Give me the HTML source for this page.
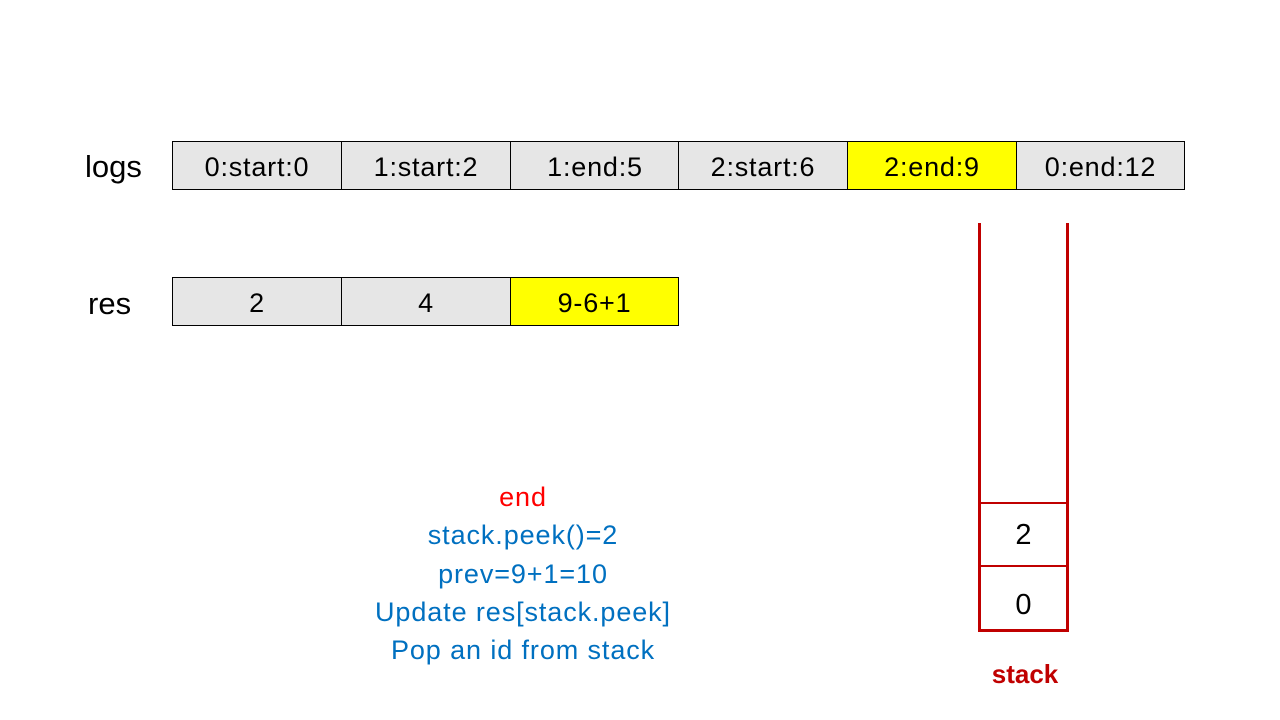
<!DOCTYPE html>
<html><head><meta charset="utf-8"><style>
body{margin:0;width:1280px;height:720px;background:#fff;position:relative;overflow:hidden;font-family:"Liberation Sans",sans-serif}
.c{position:absolute;box-sizing:border-box;border:1px solid #000;background:#e6e6e6;display:flex;align-items:center;justify-content:center;font-size:27px;letter-spacing:0.8px;color:#000;padding-top:4px}
.y{background:#ffff00}
.lbl{position:absolute;font-size:31px;color:#000}
.t{position:absolute;left:273px;width:500px;text-align:center;font-size:27px;letter-spacing:0.9px;color:#0070c0}
.v{position:absolute;background:#c00000}
</style></head><body>
<div class="lbl" style="left:85px;top:149px">logs</div>
<div class="lbl" style="left:88px;top:286px">res</div>

<div class="c" style="left:172px;top:141px;width:170px;height:49px">0:start:0</div>
<div class="c" style="left:341px;top:141px;width:170px;height:49px">1:start:2</div>
<div class="c" style="left:510px;top:141px;width:170px;height:49px">1:end:5</div>
<div class="c" style="left:678px;top:141px;width:170px;height:49px">2:start:6</div>
<div class="c y" style="left:847px;top:141px;width:170px;height:49px">2:end:9</div>
<div class="c" style="left:1016px;top:141px;width:169px;height:49px">0:end:12</div>

<div class="c" style="left:172px;top:277px;width:170px;height:49px">2</div>
<div class="c" style="left:341px;top:277px;width:170px;height:49px">4</div>
<div class="c y" style="left:510px;top:277px;width:169px;height:49px">9-6+1</div>

<div class="t" style="top:482px;color:#ff0000">end</div>
<div class="t" style="top:520px">stack.peek()=2</div>
<div class="t" style="top:559px">prev=9+1=10</div>
<div class="t" style="top:597px">Update res[stack.peek]</div>
<div class="t" style="top:635px">Pop an id from stack</div>

<div class="v" style="left:978px;top:223px;width:3px;height:409px"></div>
<div class="v" style="left:1066px;top:223px;width:3px;height:409px"></div>
<div class="v" style="left:978px;top:502px;width:91px;height:2px"></div>
<div class="v" style="left:978px;top:565px;width:91px;height:2px"></div>
<div class="v" style="left:978px;top:629px;width:91px;height:3px"></div>
<div style="position:absolute;left:981px;top:519px;width:85px;text-align:center;font-size:29px">2</div>
<div style="position:absolute;left:981px;top:589px;width:85px;text-align:center;font-size:29px">0</div>
<div style="position:absolute;left:975px;top:659px;width:100px;text-align:center;font-size:26px;font-weight:bold;color:#c00000">stack</div>
</body></html>
